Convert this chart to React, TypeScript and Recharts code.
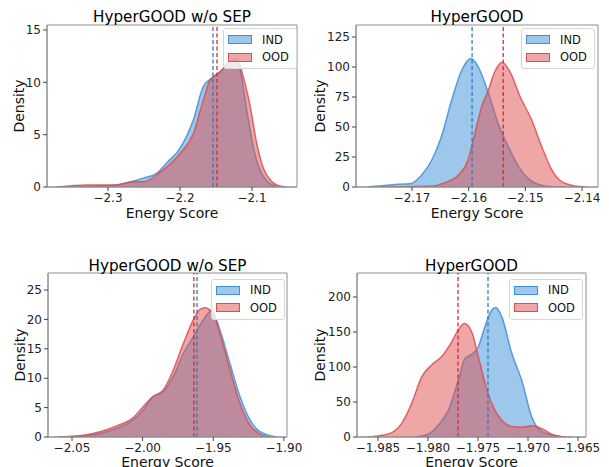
import { Area, ComposedChart, Legend, ReferenceArea, ReferenceLine, XAxis, YAxis } from "recharts";

const FONT = '"DejaVu Sans", Verdana, sans-serif';

const IND_COLOR = "#3d8fd9";
const OOD_COLOR = "#dd4d4d";
const IND_MEAN_COLOR = "#2b7bc4";
const OOD_MEAN_COLOR = "#d42b2b";
const SPINE = "#8f8f8f";

// top-left: HyperGOOD w/o SEP
const tlIndX = [-2.3713, -2.3111, -2.288, -2.2741, -2.2509, -2.2324, -2.2185, -2.2, -2.1815, -2.1676, -2.1537, -2.1444, -2.1306, -2.1259, -2.1167, -2.1074, -2.0981, -2.0888, -2.0796, -2.0657];
const tlIndDensity = [0, 0.1, 0.2, 0.4, 0.85, 1.3, 2.3, 3.7, 6.4, 9.6, 10.5, 11.0, 12.0, 12.2, 11.2, 7.4, 3.8, 1.6, 0.6, 0.05];
const tlOodX = [-2.3713, -2.3296, -2.288, -2.2648, -2.2509, -2.2278, -2.2, -2.1815, -2.1676, -2.1583, -2.1444, -2.1306, -2.1213, -2.112, -2.1028, -2.0935, -2.0842, -2.0749, -2.0657, -2.0518];
const tlOodDensity = [0, 0.2, 0.2, 0.5, 0.5, 1.4, 3.2, 5.1, 8.3, 10.2, 11.0, 12.0, 12.3, 10.5, 7.8, 4.2, 1.8, 0.7, 0.2, 0];
const tlMeans = { ind: -2.1542, ood: -2.1486 };
const tlXTicks = [-2.3, -2.2, -2.1];
const tlYTicks = [0, 5, 10, 15];

// top-right: HyperGOOD
const trIndX = [-2.178, -2.1724, -2.1701, -2.1683, -2.1665, -2.1648, -2.163, -2.1612, -2.1596, -2.1583, -2.1565, -2.1548, -2.153, -2.1512, -2.1495, -2.1477, -2.1453, -2.143];
const trIndDensity = [0, 2.2, 3, 10, 22.5, 42, 72.5, 97.5, 107, 100, 78, 53, 33.6, 17, 7, 2.2, 0.3, 0];
const trOodX = [-2.1753, -2.1665, -2.1642, -2.1618, -2.1601, -2.1589, -2.1577, -2.1565, -2.1554, -2.1541, -2.1527, -2.1509, -2.1489, -2.1471, -2.1453, -2.1436, -2.1412, -2.1392];
const trOodDensity = [0, 0.8, 3.6, 10, 22.5, 44.7, 67, 81, 96, 104, 96, 75, 56, 33.6, 14, 4.4, 0.8, 0];
const trMeans = { ind: -2.1594, ood: -2.1539 };
const trXTicks = [-2.17, -2.16, -2.15, -2.14];
const trYTicks = [0, 25, 50, 75, 100, 125];

// bottom-left: HyperGOOD w/o SEP
const blIndX = [-2.0597, -2.042, -2.0302, -2.0184, -2.0066, -1.9995, -1.9925, -1.9854, -1.9783, -1.9712, -1.9642, -1.9571, -1.9511, -1.9453, -1.9382, -1.9311, -1.924, -1.917, -1.9051];
const blIndDensity = [0, 0.17, 0.6, 1.5, 2.9, 4.6, 6.9, 7.7, 10.3, 14.2, 17, 19.9, 21.5, 18.2, 12.5, 6.9, 2.9, 0.9, 0];
const blOodX = [-2.0597, -2.042, -2.0302, -2.0184, -2.0066, -1.9995, -1.9925, -1.9854, -1.9783, -1.9712, -1.9642, -1.9594, -1.9559, -1.95, -1.9453, -1.9382, -1.9311, -1.924, -1.917, -1.9099];
const blOodDensity = [0, 0.3, 0.9, 1.9, 3.3, 5.2, 6.9, 8.0, 11.4, 15.9, 19.9, 21.7, 22.0, 21.0, 17.6, 11.4, 5.7, 2.0, 0.5, 0];
const blMeans = { ind: -1.9615, ood: -1.9637 };
const blXTicks = [-2.05, -2.0, -1.95, -1.9];
const blYTicks = [0, 5, 10, 15, 20, 25];

// bottom-right: HyperGOOD
const brIndX = [-1.9813, -1.97997, -1.97897, -1.97797, -1.97697, -1.9763, -1.97563, -1.97497, -1.9743, -1.97363, -1.97323, -1.97263, -1.97163, -1.97063, -1.96963, -1.96897, -1.96797, -1.96663, -1.96563];
const brIndDensity = [0, 4, 17, 38, 81, 112, 118, 129, 158, 181, 185, 172, 120, 81, 29, 12, 4, 0.5, 0];
const brOodX = [-1.98613, -1.98397, -1.98263, -1.98163, -1.98063, -1.97963, -1.97863, -1.97763, -1.97697, -1.97637, -1.97563, -1.97497, -1.9743, -1.97363, -1.97263, -1.97163, -1.97063, -1.96963, -1.96863, -1.96763, -1.9663];
const brOodDensity = [0, 4.3, 19.5, 48, 86, 103, 115, 136, 153, 162, 150, 115, 77, 48, 24, 15, 14, 16, 12, 4, 0];
const brMeans = { ind: -1.974, ood: -1.977 };
const brXTicks = [-1.985, -1.98, -1.975, -1.97, -1.965];
const brYTicks = [0, 50, 100, 150, 200];

type Row = { x: number; ind?: number; ood?: number };

// IND and OOD were read at different x positions, so merge them into one
// table and let connectNulls skip the gaps.
function mergeSeries(indX: number[], indY: number[], oodX: number[], oodY: number[]): Row[] {
	const rows = new Map<number, Row>();
	indX.forEach((x, i) => {
		const r = rows.get(x) ?? { x };
		r.ind = indY[i];
		rows.set(x, r);
	});
	oodX.forEach((x, i) => {
		const r = rows.get(x) ?? { x };
		r.ood = oodY[i];
		rows.set(x, r);
	});
	return [...rows.values()].sort((a, b) => a.x - b.x);
}

function KdeLegend() {
	const rows = [
		{ name: "IND", color: IND_COLOR },
		{ name: "OOD", color: OOD_COLOR },
	];
	return (
		<div
			style={{
				width: 68,
				border: "1px solid #d6d6d6",
				borderRadius: 3,
				background: "rgba(255,255,255,0.8)",
				padding: "2px 0 2px 4px",
				fontFamily: FONT,
				fontSize: 11.5,
				color: "#111",
			}}
		>
			{rows.map((r) => (
				<div key={r.name} style={{ display: "flex", alignItems: "center", height: 17.5 }}>
					<span
						style={{
							display: "inline-block",
							width: 22,
							height: 7,
							background: r.color + "80",
							border: `1px solid ${r.color}`,
						}}
					/>
					<span style={{ marginLeft: 10 }}>{r.name}</span>
				</div>
			))}
		</div>
	);
}

type Panel = {
	title: string;
	left: number;
	top: number;
	width: number;
	height: number;
	margin: { top: number; right: number; bottom: number; left: number };
	yWidth: number;
	xHeight: number;
	xDomain: [number, number];
	yMax: number;
	xTicks: number[];
	yTicks: number[];
	digits: number;
	rows: Row[];
	means: { ind: number; ood: number };
	legend: { left: number; top: number };
	titleOffset: number;
	xLabelOffset: number;
	yLabelOffset: number;
};

const panels: Panel[] = [
	{
		title: "HyperGOOD w/o SEP",
		left: 0, top: 0, width: 305, height: 230,
		margin: { top: 25, right: 8, bottom: 0, left: 0 },
		yWidth: 47, xHeight: 43,
		xDomain: [-2.3847, -2.0375], yMax: 15.48,
		xTicks: tlXTicks, yTicks: tlYTicks, digits: 1,
		rows: mergeSeries(tlIndX, tlIndDensity, tlOodX, tlOodDensity),
		means: tlMeans,
		legend: { left: 223, top: 28 },
		titleOffset: 3.5, xLabelOffset: 12.5, yLabelOffset: 19,
	},
	{
		title: "HyperGOOD",
		left: 305, top: 0, width: 304, height: 230,
		margin: { top: 25, right: 11, bottom: 0, left: 0 },
		yWidth: 51, xHeight: 43,
		xDomain: [-2.17988, -2.13718], yMax: 135,
		xTicks: trXTicks, yTicks: trYTicks, digits: 2,
		rows: mergeSeries(trIndX, trIndDensity, trOodX, trOodDensity),
		means: trMeans,
		legend: { left: 216, top: 28 },
		titleOffset: 3, xLabelOffset: 12.5, yLabelOffset: 15,
	},
	{
		title: "HyperGOOD w/o SEP",
		left: 0, top: 230, width: 305, height: 237,
		margin: { top: 43, right: 18, bottom: 0, left: 0 },
		yWidth: 48, xHeight: 30,
		xDomain: [-2.067, -1.8978], yMax: 27.9,
		xTicks: blXTicks, yTicks: blYTicks, digits: 2,
		rows: mergeSeries(blIndX, blIndDensity, blOodX, blOodDensity),
		means: blMeans,
		legend: { left: 211, top: 48.5 },
		titleOffset: 2.5, xLabelOffset: 0.5, yLabelOffset: 20,
	},
	{
		title: "HyperGOOD",
		left: 305, top: 230, width: 304, height: 237,
		margin: { top: 43, right: 23, bottom: 0, left: 0 },
		yWidth: 52, xHeight: 30,
		xDomain: [-1.9871, -1.9642], yMax: 234.3,
		xTicks: brXTicks, yTicks: brYTicks, digits: 3,
		rows: mergeSeries(brIndX, brIndDensity, brOodX, brOodDensity),
		means: brMeans,
		legend: { left: 204, top: 48.5 },
		titleOffset: 2.5, xLabelOffset: 0.5, yLabelOffset: 15,
	},
];

const tickStyle = { fontSize: 12, fill: "#222", fontFamily: FONT };

function KdePanel({ p }: { p: Panel }) {
	const fmt = (v: number) => v.toFixed(p.digits).replace("-", "\u2212");
	return (
		<div style={{ position: "absolute", left: p.left, top: p.top, width: p.width, height: p.height }}>
			<ComposedChart width={p.width} height={p.height} data={p.rows} margin={p.margin}>
				<XAxis
					dataKey="x"
					type="number"
					domain={p.xDomain}
					allowDataOverflow
					ticks={p.xTicks}
					interval={0}
					tickFormatter={fmt}
					height={p.xHeight}
					tick={tickStyle}
					tickSize={4}
					tickMargin={2}
					axisLine={{ stroke: SPINE }}
					tickLine={{ stroke: "#444" }}
					label={{
						value: "Energy Score",
						position: "insideBottom",
						offset: p.xLabelOffset,
						fontSize: 14,
						fill: "#111",
						fontFamily: FONT,
					}}
				/>
				<YAxis
					type="number"
					domain={[0, p.yMax]}
					allowDataOverflow
					ticks={p.yTicks}
					interval={0}
					width={p.yWidth}
					tick={tickStyle}
					tickSize={4}
					tickMargin={2}
					axisLine={{ stroke: SPINE }}
					tickLine={{ stroke: "#444" }}
					label={{
						value: "Density",
						angle: -90,
						position: "insideLeft",
						offset: p.yLabelOffset,
						fontSize: 14,
						fill: "#111",
						fontFamily: FONT,
						style: { textAnchor: "middle" },
					}}
				/>
				<Area
					type="monotone"
					dataKey="ind"
					name="IND"
					stroke={IND_COLOR}
					strokeOpacity={0.85}
					strokeWidth={1.5}
					fill={IND_COLOR}
					fillOpacity={0.5}
					connectNulls
					dot={false}
					activeDot={false}
					isAnimationActive={false}
				/>
				<Area
					type="monotone"
					dataKey="ood"
					name="OOD"
					stroke={OOD_COLOR}
					strokeOpacity={0.85}
					strokeWidth={1.5}
					fill={OOD_COLOR}
					fillOpacity={0.5}
					connectNulls
					dot={false}
					activeDot={false}
					isAnimationActive={false}
				/>
				<ReferenceLine x={p.means.ind} stroke={IND_MEAN_COLOR} strokeWidth={1.3} strokeDasharray="4 2.5" />
				<ReferenceLine x={p.means.ood} stroke={OOD_MEAN_COLOR} strokeWidth={1.3} strokeDasharray="4 2.5" />
				<ReferenceArea
					x1={p.xDomain[0]}
					x2={p.xDomain[1]}
					y1={0}
					y2={p.yMax}
					fill="none"
					fillOpacity={0}
					stroke={SPINE}
					strokeWidth={1}
					ifOverflow="visible"
					label={{
						value: p.title,
						position: "top",
						offset: p.titleOffset,
						fontSize: 15.2,
						fill: "#000",
						fontFamily: FONT,
					}}
				/>
				<Legend
					layout="horizontal"
					verticalAlign="middle"
					align="center"
					content={() => <KdeLegend />}
					wrapperStyle={{ left: p.legend.left, top: p.legend.top, width: "auto" }}
				/>
			</ComposedChart>
		</div>
	);
}

export default function App() {
	return (
		<div style={{ position: "absolute", left: 0, top: 0, width: 609, height: 467, background: "#fff", overflow: "hidden", fontFamily: FONT }}>
			{panels.map((p, i) => (
				<KdePanel key={i} p={p} />
			))}
		</div>
	);
}
